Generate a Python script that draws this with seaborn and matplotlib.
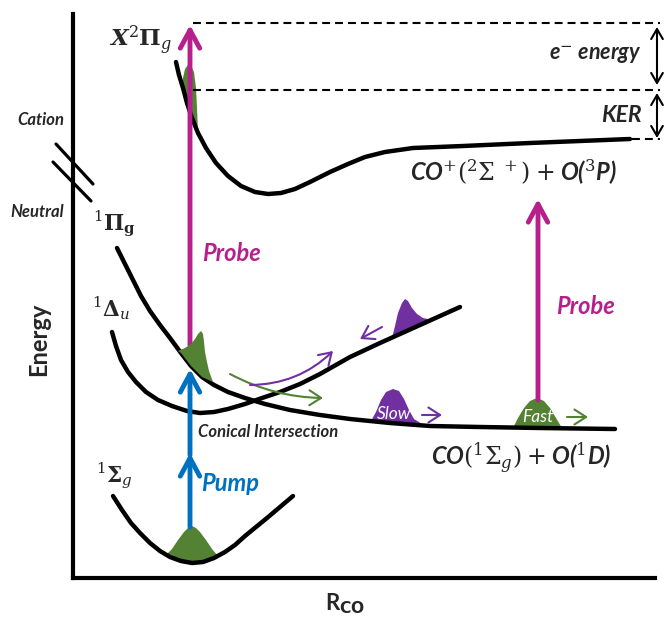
import seaborn as sns
import matplotlib.pyplot as plt

# Potential energy curves (pixel-like units, y grows downward)
cation_x = [176, 179, 183, 187, 192, 198, 206, 216, 228, 241, 255, 268, 281, 295, 310, 330, 348, 365, 385, 413, 463, 530, 630]
cation_y = [62, 75, 88, 103, 118, 133, 148, 163, 176, 186, 192, 194, 193, 189, 182, 172, 164, 157, 152, 148, 146, 143, 139]

pi_g_x = [117, 125, 133, 141, 150, 160, 170, 181, 191, 202, 214, 228, 245, 265, 290, 320, 350, 390, 430, 480, 540, 615]
pi_g_y = [248, 264, 280, 296, 311, 325, 338, 353, 366, 377, 385, 392, 398, 404, 410, 415, 419, 423, 426, 427, 428, 429]

delta_u_x = [112, 116, 121, 128, 136, 146, 158, 172, 187, 200, 214, 228, 245, 262, 280, 300, 320, 350, 380, 420, 460]
delta_u_y = [332, 346, 360, 372, 382, 392, 400, 406, 411, 413, 412, 409, 404, 398, 392, 384, 374, 357, 343, 325, 307]

sigma_g_x = [113, 122, 131, 140, 150, 160, 170, 181, 192, 203, 214, 225, 235, 245, 256, 267, 280, 293]
sigma_g_y = [496, 510, 523, 533, 543, 551, 557, 561, 563, 562, 558, 552, 545, 536, 527, 518, 507, 496]

# Wavepacket outlines
ground_pk_x = [166, 172, 178, 184, 188, 192, 196, 200, 206, 212, 218, 214, 203, 192, 181, 170]
ground_pk_y = [555, 549, 540, 532, 528, 526, 528, 532, 540, 549, 556, 558, 562, 563, 561, 557]

excited_pk_x = [178, 185, 191, 195, 198, 201, 203, 204, 205, 207, 209, 213, 202, 191, 181]
excited_pk_y = [351, 348, 344, 339, 334, 331, 334, 342, 352, 362, 371, 382, 377, 366, 353]

cation_pk_x = [183, 185, 188, 191, 194, 196, 197, 198, 193, 188, 185, 183]
cation_pk_y = [78, 69, 65, 66, 72, 88, 108, 131, 120, 106, 95, 86]

bound_pk_x = [392, 395, 398, 402, 405, 408, 412, 417, 423, 432, 438]
bound_pk_y = [338, 326, 313, 303, 299, 301, 308, 314, 318, 320, 317]

slow_pk_x = [371, 376, 381, 386, 393, 399, 404, 409, 414, 422, 397]
slow_pk_y = [421, 412, 400, 392, 389, 391, 399, 410, 419, 424, 423]

fast_pk_x = [513, 518, 524, 530, 537, 544, 550, 556, 562]
fast_pk_y = [428, 418, 408, 401, 398, 401, 408, 418, 428]

magenta = '#B5208C'
blue = '#0070C0'
green = '#548235'
purple = '#7030A0'

sns.set_style('white')
plt.rcParams['font.family'] = ['Lato', 'DejaVu Sans']
plt.rcParams['mathtext.fontset'] = 'dejavuserif'

fig = plt.figure(figsize=(6.65, 6.17), dpi=100)
ax = fig.add_axes([73 / 665, 39 / 617, 582 / 665, 564 / 617])
ax.set_xlim(73, 655)
ax.set_ylim(578, 14)
ax.set_xticks([])
ax.set_yticks([])
for side in ['top', 'right']:
    ax.spines[side].set_visible(False)
for side in ['left', 'bottom']:
    ax.spines[side].set_linewidth(3)
    ax.spines[side].set_color('black')

# curves
for cx, cy in [(cation_x, cation_y), (pi_g_x, pi_g_y), (delta_u_x, delta_u_y), (sigma_g_x, sigma_g_y)]:
    sns.lineplot(x=cx, y=cy, sort=False, estimator=None, color='black', linewidth=3.2, ax=ax)

# dashed energy levels
ax.plot([193, 660], [23, 23], color='black', lw=1.5, dashes=(3.8, 2.4), clip_on=False)
ax.plot([193, 660], [90, 90], color='black', lw=1.5, dashes=(3.8, 2.4), clip_on=False)
ax.plot([632, 660], [139, 139], color='black', lw=1.5, dashes=(3.8, 2.4), clip_on=False)

# axis break marks
ax.plot([56, 93], [144, 184], color='black', lw=2.3, clip_on=False)
ax.plot([53, 91], [162, 201], color='black', lw=2.3, clip_on=False)

# wavepackets
ax.fill(ground_pk_x, ground_pk_y, color=green, lw=0)
ax.fill(cation_pk_x, cation_pk_y, color=green, lw=0)
ax.fill(bound_pk_x, bound_pk_y, color=purple, lw=0)
ax.fill(slow_pk_x, slow_pk_y, color=purple, lw=0)
ax.fill(fast_pk_x, fast_pk_y, color=green, lw=0)


def arrow(start, end, color, lw, scale, style='->,head_length=0.65,head_width=0.35', rad=0.0, z=3):
    ax.annotate('', xy=end, xytext=start, annotation_clip=False, zorder=z,
                arrowprops=dict(arrowstyle=style, color=color, lw=lw, mutation_scale=scale,
                                shrinkA=0, shrinkB=0, connectionstyle=f'arc3,rad={rad}'))


# probe and pump arrows
arrow((190, 345), (190, 25), magenta, 3.5, 20)
arrow((538, 400), (538, 199), magenta, 3.5, 20)
arrow((190, 527), (190, 453), blue, 3.5, 20)
arrow((190, 455), (190, 369), blue, 3.5, 20)
ax.fill(excited_pk_x, excited_pk_y, color=green, lw=0, zorder=4)

# energy brackets
arrow((657, 85), (657, 27), 'black', 1.5, 12, style='<->,head_length=0.6,head_width=0.35')
arrow((657, 138), (657, 93), 'black', 1.5, 12, style='<->,head_length=0.6,head_width=0.35')

# wavepacket motion arrows
arrow((382, 327), (360, 339), purple, 1.5, 12, style='->,head_length=0.7,head_width=0.45')
arrow((422, 415), (442, 415), purple, 1.5, 12, style='->,head_length=0.7,head_width=0.45')
arrow((567, 417), (588, 417), green, 1.5, 12, style='->,head_length=0.7,head_width=0.45')
arrow((230, 374), (323, 398), green, 1.5, 12, style='->,head_length=0.7,head_width=0.45', rad=0.12)
arrow((250, 385), (333, 351), purple, 1.5, 12, style='->,head_length=0.7,head_width=0.45', rad=0.2)

bi = dict(fontweight='bold', fontstyle='italic', ha='center', va='center')

# state labels
ax.text(141, 40, r'$\mathbfit{X}^{2}\mathbf{\Pi}_{g}$', fontsize=16.5, ha='center', va='center')
ax.text(115, 224, r'${}^{1}\mathbf{\Pi}_{\mathbf{g}}$', fontsize=15.5, ha='center', va='center')
ax.text(111, 308, r'${}^{1}\mathbf{\Delta}_{u}$', fontsize=15.5, ha='center', va='center')
ax.text(114, 476, r'${}^{1}\mathbf{\Sigma}_{g}$', fontsize=15.5, ha='center', va='center')

ax.text(513, 172, r'CO$^{+}(^{2}\Sigma^{\ +})$ $+$ O($^{3}$P)', fontsize=17, **bi)
ax.text(521, 458, r'CO$(^{1}\Sigma_{g})$ $+$ O($^{1}$D)', fontsize=17, **bi)

ax.text(642, 55, r'e$^{\mathsf{-}}$ energy', fontsize=15.5, fontweight='bold', fontstyle='italic', ha='right', va='center')
ax.text(642, 115, 'KER', fontsize=16.5, fontweight='bold', fontstyle='italic', ha='right', va='center')

ax.text(231, 253, 'Probe', fontsize=17, color=magenta, **bi)
ax.text(585, 306, 'Probe', fontsize=17, color=magenta, **bi)
ax.text(230, 483, 'Pump', fontsize=17, color=blue, **bi)
ax.text(198, 432, 'Conical Intersection', fontsize=12, fontweight='bold', fontstyle='italic', ha='left', va='center')
ax.text(394, 414, 'Slow', fontsize=12.5, color='white', fontstyle='italic', ha='center', va='center', zorder=5)
ax.text(538, 417, 'Fast', fontsize=12.5, color='white', fontstyle='italic', ha='center', va='center', zorder=5)

ax.text(41, 120, 'Cation', fontsize=12, **bi)
ax.text(37, 212, 'Neutral', fontsize=12, **bi)
ax.text(39, 339, 'Energy', fontsize=17, fontweight='bold', rotation=90, ha='center', va='center')
ax.text(345, 604, r'R$_{\mathbf{CO}}$', fontsize=16, fontweight='bold', ha='center', va='center',
        math_fontfamily='dejavusans')

fig.savefig('out.png', dpi=100)
